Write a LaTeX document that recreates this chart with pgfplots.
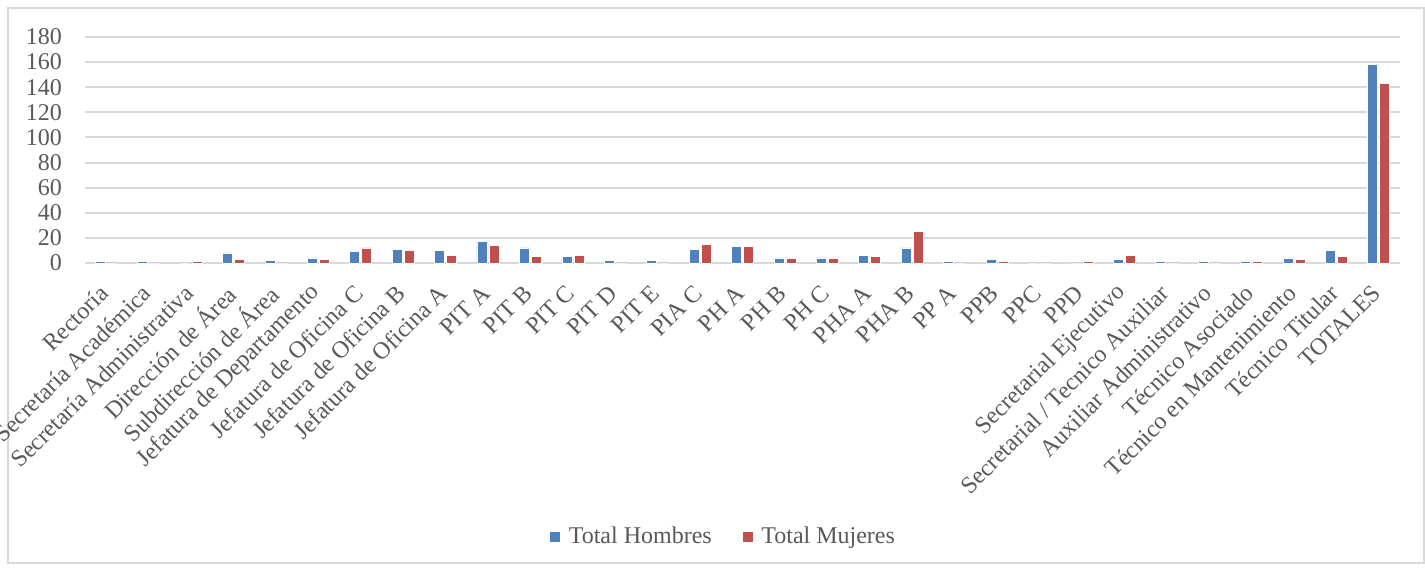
\documentclass[border=0pt]{standalone}
\usepackage{pgfplots}
\pgfplotsset{compat=1.18}
\usepackage{fontspec}
\setmainfont{Liberation Serif}
\definecolor{cblue}{HTML}{4F81BD}
\definecolor{cred}{HTML}{C0504D}
\definecolor{cgrid}{HTML}{D9D9D9}
\definecolor{ctext}{HTML}{595959}
\begin{document}
\begin{tikzpicture}
\useasboundingbox (-42.5pt,-154pt) rectangle (670pt,131.5pt);
\draw[cgrid,line width=0.8pt] (-38.5pt,-150pt) rectangle (669.5pt,127.5pt);
\begin{axis}[
  at={(0,0)}, anchor=south west,
  scale only axis,
  width=657.5pt, height=113pt,
  ybar, bar width=5pt,
  ymin=0, ymax=180, ytick={0,20,...,180},
  xmin=-0.5, xmax=30.5,
  xtick={0,...,30},
  xticklabels={Rectoría,Secretaría Académica,Secretaría Administrativa,Dirección de Área,Subdirección de Área,Jefatura de Departamento,Jefatura de Oficina C,Jefatura de Oficina B,Jefatura de Oficina A,PIT A,PIT B,PIT C,PIT D,PIT E,PIA C,PH A,PH B,PH C,PHA A,PHA B,PP A,PPB,PPC,PPD,Secretarial Ejecutivo,Secretarial / Tecnico Auxiliar,Auxiliar Administrativo,Técnico Asociado,Técnico en Mantenimiento,Técnico Titular,TOTALES},
  x tick label style={xshift=-1pt, yshift=-13pt, rotate=45, anchor=east, inner sep=0pt},
  y tick label style={xshift=-8pt},
  ymajorgrids, grid style={cgrid, line width=1pt},
  axis x line*=bottom, axis y line*=left,
  x axis line style={cgrid, line width=1pt, -},
  y axis line style={draw=none},
  major tick length=0pt,
  tick label style={font=\fontsize{12}{14}\selectfont, text=ctext},
  /pgf/number format/assume math mode=true,
  clip=false,
  legend style={at={(0.486,-1.212)}, anchor=center, draw=none, legend columns=2,
    font=\fontsize{12}{14}\selectfont, text=ctext,
    /tikz/every even column/.append style={column sep=13pt},
    /tikz/every odd column/.append style={column sep=2pt}},
  legend image code/.code={\fill[#1] (0pt,-2.75pt) rectangle (5.5pt,2.75pt);},
]
\addplot[fill=cblue, draw=white, line width=0.3pt, bar shift=-3pt] coordinates {
(0,1)(1,1)(2,0)(3,8)(4,2)(5,4)(6,9)(7,11)(8,10)(9,17)(10,12)(11,5)(12,2)(13,2)(14,11)(15,13)(16,4)(17,4)(18,6)(19,12)(20,1)(21,3)(22,0)(23,0)(24,3)(25,1)(26,1)(27,1)(28,4)(29,10)(30,158)};
\addplot[fill=cred, draw=white, line width=0.3pt, bar shift=3pt] coordinates {
(0,0)(1,0)(2,1)(3,3)(4,0)(5,3)(6,12)(7,10)(8,6)(9,14)(10,5)(11,6)(12,0)(13,0)(14,15)(15,13)(16,4)(17,4)(18,5)(19,25)(20,0)(21,1)(22,0)(23,1)(24,6)(25,0)(26,0)(27,1)(28,3)(29,5)(30,143)};
\legend{Total Hombres, Total Mujeres}
\end{axis}
\end{tikzpicture}
\end{document}
